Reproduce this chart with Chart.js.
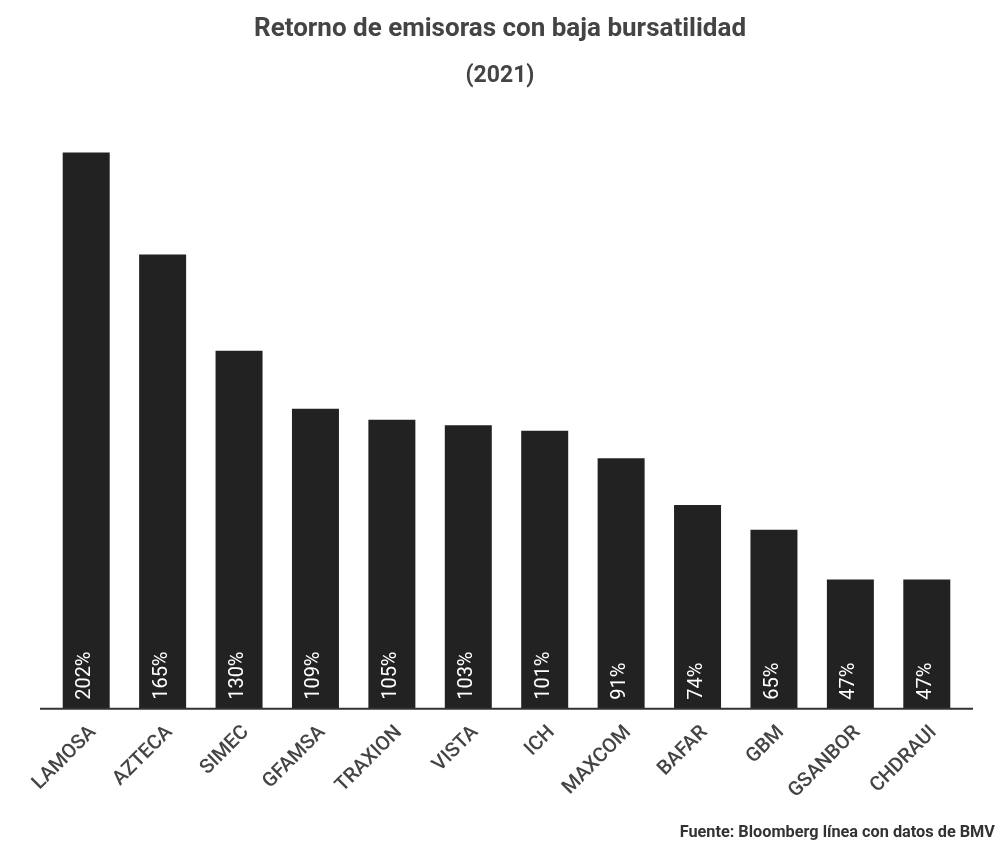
<!DOCTYPE html>
<html>
<head>
<meta charset="utf-8">
<script src="https://cdn.jsdelivr.net/npm/chart.js@4/dist/chart.umd.min.js"></script>
<style>
html,body{margin:0;padding:0;background:#fff;}
#wrap{width:1000px;height:855px;position:relative;}
</style>
</head>
<body>
<div id="wrap"><canvas id="c" width="1000" height="855"></canvas></div>
<script>
const categories = ["LAMOSA","AZTECA","SIMEC","GFAMSA","TRAXION","VISTA","ICH","MAXCOM","BAFAR","GBM","GSANBOR","CHDRAUI"];
const returns = [202,165,130,109,105,103,101,91,74,65,47,47];
const titleText = "Retorno de emisoras con baja bursatilidad";
const subtitleText = "(2021)";
const sourceText = "Fuente: Bloomberg línea con datos de BMV";

const FONT = "Roboto, 'Noto Sans', sans-serif";

const inBarLabels = {
  id: 'inBarLabels',
  afterDatasetsDraw(chart) {
    const ctx = chart.ctx;
    const meta = chart.getDatasetMeta(0);
    ctx.save();
    ctx.fillStyle = '#ffffff';
    ctx.font = '20px ' + FONT;
    ctx.textAlign = 'left';
    ctx.textBaseline = 'middle';
    meta.data.forEach((bar, i) => {
      ctx.save();
      ctx.translate(bar.x - 1, bar.base - 9);
      ctx.rotate(-Math.PI / 2);
      ctx.fillText(returns[i] + '%', 0, 0);
      ctx.restore();
    });
    ctx.restore();
  }
};

const baseline = {
  id: 'baseline',
  afterDatasetsDraw(chart) {
    const ctx = chart.ctx;
    const y = chart.scales.y.getPixelForValue(0);
    ctx.save();
    ctx.strokeStyle = '#333333';
    ctx.lineWidth = 2;
    ctx.beginPath();
    ctx.moveTo(chart.chartArea.left - 8, y);
    ctx.lineTo(chart.chartArea.right + 8, y);
    ctx.stroke();
    ctx.restore();
  }
};

const texts = {
  id: 'texts',
  afterDraw(chart) {
    const ctx = chart.ctx;
    ctx.save();
    ctx.textBaseline = 'middle';
    ctx.fillStyle = '#444444';
    ctx.textAlign = 'center';
    ctx.font = 'bold 26px ' + FONT;
    ctx.fillText(titleText, 500, 29);
    ctx.font = 'bold 23px ' + FONT;
    ctx.fillText(subtitleText, 500, 76);
    ctx.fillStyle = '#333333';
    ctx.textAlign = 'right';
    ctx.font = 'bold 16.3px ' + FONT;
    ctx.fillText(sourceText, 995, 833);
    ctx.restore();
  }
};

new Chart(document.getElementById('c'), {
  type: 'bar',
  data: {
    labels: categories,
    datasets: [{
      data: returns,
      backgroundColor: '#222222',
      borderWidth: 0,
      barPercentage: 0.615,
      categoryPercentage: 1.0
    }]
  },
  options: {
    responsive: false,
    animation: false,
    devicePixelRatio: 1,
    layout: { padding: { left: 48, right: 35, top: 103, bottom: 48 } },
    plugins: {
      legend: { display: false },
      tooltip: { enabled: false },
      title: { display: false },
      subtitle: { display: false }
    },
    scales: {
      x: {
        grid: { display: false, drawBorder: false },
        border: { display: false },
        ticks: {
          color: '#444444',
          font: { family: FONT, size: 20, weight: '500' },
          maxRotation: 45,
          minRotation: 45,
          autoSkip: false,
          padding: 4,
          labelOffset: 7
        }
      },
      y: {
        display: false,
        min: 0,
        max: 220
      }
    }
  },
  plugins: [inBarLabels, baseline, texts]
});
</script>
</body>
</html>
